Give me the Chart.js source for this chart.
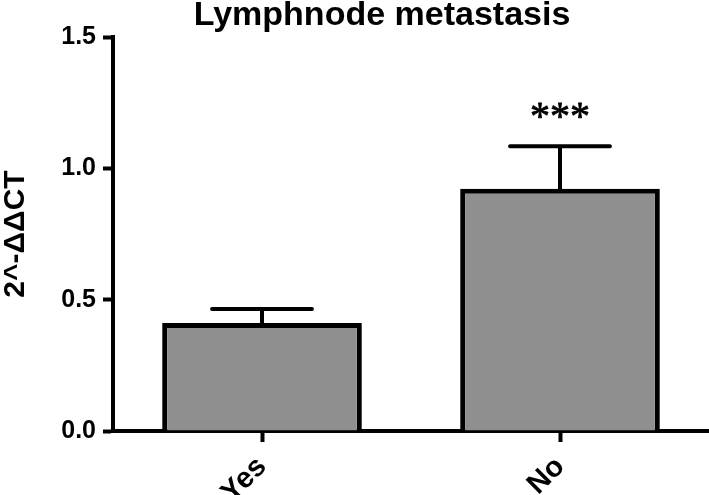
<!DOCTYPE html>
<html><head><meta charset="utf-8">
<style>html,body{margin:0;padding:0;background:#fff;overflow:hidden;} #wrap{width:709px;height:495px;}</style>
<script src="https://cdn.jsdelivr.net/npm/chart.js@4"></script>
</head><body><div id="wrap"><canvas id="c" width="709" height="495"></canvas></div>
<script>
const chartTitle = 'Lymphnode metastasis';
const categories = ['Yes', 'No'];
const means = [0.411, 0.922];
const sem = [0.053, 0.162];
const significance = ['', '***'];
const yTicks = [0, 0.5, 1.0, 1.5];
const yLabel = '2^-ΔΔCT';

const FONT = '"Liberation Sans", Arial, sans-serif';

const annot = {
  id: 'annot',
  afterDatasetsDraw(chart) {
    const ctx = chart.ctx, meta = chart.getDatasetMeta(0), y = chart.scales.y;
    ctx.save();
    ctx.strokeStyle = '#000';
    ctx.fillStyle = '#000';
    ctx.lineWidth = 4;
    ctx.lineCap = 'round';
    meta.data.forEach((bar, i) => {
      const x = bar.x;
      const top = y.getPixelForValue(means[i]);
      const cap = y.getPixelForValue(means[i] + sem[i]);
      const hw = bar.width / 4;
      ctx.beginPath();
      ctx.moveTo(x, top); ctx.lineTo(x, cap);
      ctx.moveTo(x - hw, cap); ctx.lineTo(x + hw, cap);
      ctx.stroke();
      if (significance[i]) {
        ctx.font = '40px "Liberation Serif", serif';
        ctx.textAlign = 'center';
        ctx.textBaseline = 'alphabetic';
        ctx.lineWidth = 0.8;
        ctx.fillText(significance[i], x, cap - 17);
        ctx.strokeText(significance[i], x, cap - 17);
      }
    });
    ctx.font = 'bold 34px ' + FONT;
    ctx.textAlign = 'center';
    ctx.textBaseline = 'alphabetic';
    ctx.fillText(chartTitle, 382, 25);
    ctx.restore();
  }
};

new Chart(document.getElementById('c'), {
  type: 'bar',
  data: {
    labels: categories,
    datasets: [{
      data: means,
      backgroundColor: '#8f8f8f',
      borderColor: '#000',
      borderWidth: 5,
      barPercentage: 0.67,
      categoryPercentage: 1.0
    }]
  },
  options: {
    responsive: false,
    devicePixelRatio: 1,
    animation: false,
    layout: { padding: { top: 37, right: 0, left: 0, bottom: 0 } },
    plugins: { legend: { display: false }, tooltip: { enabled: false }, title: { display: false } },
    scales: {
      x: {
        z: 1,
        offset: true,
        border: { display: true, color: '#000', width: 4 },
        grid: { display: true, offset: false, drawOnChartArea: false, drawTicks: true, tickLength: 11, tickWidth: 4, tickColor: '#000', color: '#000' },
        ticks: { color: '#000', font: { family: FONT, weight: 'bold', size: 29 }, minRotation: 45, maxRotation: 45, padding: 8 },
        afterFit(s) { s.height = 64; s.paddingLeft = 0; s.paddingRight = 0; }
      },
      y: {
        z: 1,
        min: 0, max: 1.5,
        border: { display: true, color: '#000', width: 4 },
        grid: { display: true, drawOnChartArea: false, drawTicks: true, tickLength: 10, tickWidth: 4, tickColor: '#000', color: '#000' },
        afterBuildTicks(s) { s.ticks = yTicks.map(v => ({ value: v })); },
        ticks: { color: '#000', font: { family: FONT, weight: 'bold', size: 25 }, padding: 7, callback: v => Number(v).toFixed(1) },
        title: { display: true, text: yLabel, color: '#000', font: { family: FONT, weight: 'bold', size: 30, lineHeight: 1.05 }, padding: { top: 0, bottom: 0 } },
        afterFit(s) { s.width = 113; }
      }
    }
  },
  plugins: [annot]
});
</script>
</body></html>
